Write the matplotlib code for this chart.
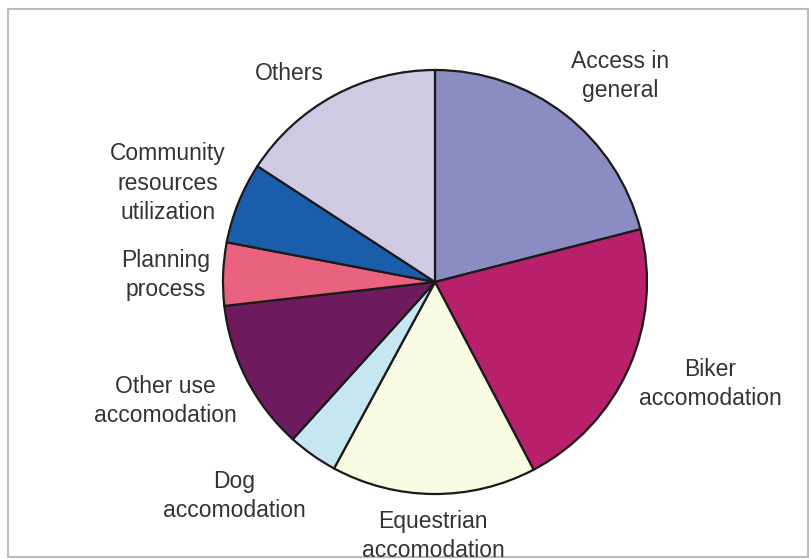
import matplotlib
matplotlib.use("Agg")
import matplotlib.pyplot as plt
from matplotlib.patches import Rectangle

categories = ["Access in\ngeneral", "Biker\naccomodation", "Equestrian\naccomodation",
              "Dog\naccomodation", "Other use\naccomodation", "Planning\nprocess",
              "Community\nresources\nutilization", "Others"]
values = [21.0, 21.3, 15.6, 3.8, 11.5, 4.8, 6.2, 15.8]
colors = ["#8A8CC2", "#B8206B", "#FAFBE3", "#C6E6F2", "#6E1A5E", "#E9637F", "#1A5DAB", "#D0C9E4"]
label_pos = [(620, 76), (710, 384), (433, 536), (234, 496), (165, 401), (166, 275), (168, 183), (289, 73)]

W, H = 809, 559
fig = plt.figure(figsize=(W / 100, H / 100), dpi=100)
ax = fig.add_axes([0, 0, 1, 1])
ax.pie(values, colors=colors, startangle=90, counterclock=False,
       center=(435, H - 282), radius=212,
       wedgeprops=dict(edgecolor="#1a1a1a", linewidth=1.6))
ax.set_xlim(0, W)
ax.set_ylim(0, H)
ax.set_aspect("equal")
ax.axis("off")

for lab, (x, y) in zip(categories, label_pos):
    ax.text(x, H - y, lab, ha="center", va="center", fontsize=16.5,
            family="Liberation Sans", color="#333333", linespacing=1.36)

ax.add_patch(Rectangle((8, H - 557), 800, 548, fill=False, edgecolor="#BBBBBB", linewidth=1.5))

fig.savefig("out.png", dpi=100)
